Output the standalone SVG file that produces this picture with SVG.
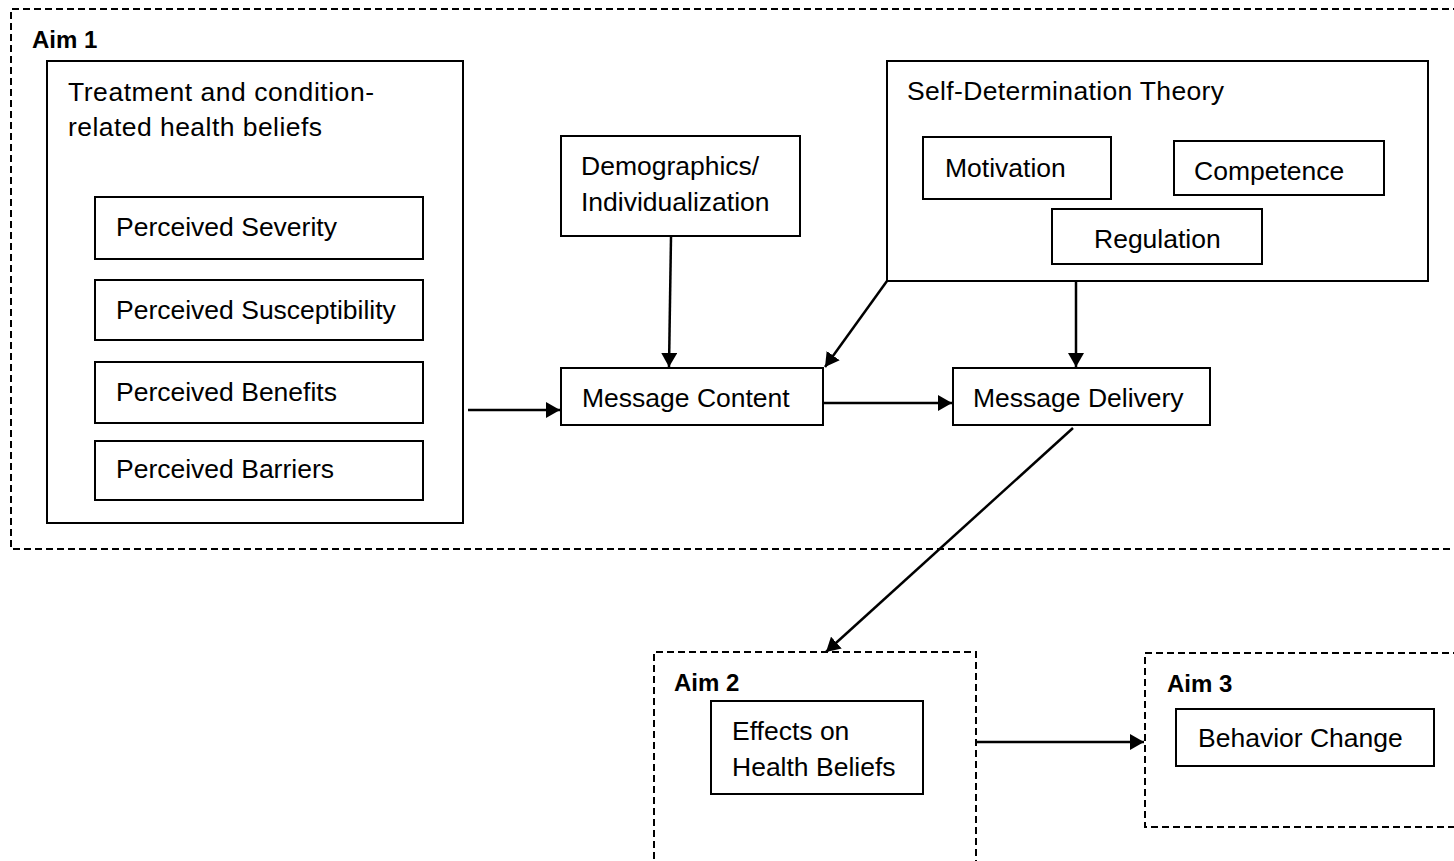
<svg xmlns="http://www.w3.org/2000/svg" width="1454" height="861" viewBox="0 0 1454 861">
  <style>
    .box { fill: #ffffff; stroke: #000000; stroke-width: 2; }
    .aim { fill: none; stroke: #000000; stroke-width: 2; stroke-dasharray: 7 4; }
    .lbl { font-family: "Liberation Sans", Arial, sans-serif; font-size: 26.5px; fill: #000000; }
    .aimlbl { font-family: "Liberation Sans", Arial, sans-serif; font-size: 24px; font-weight: bold; fill: #000000; }
    .edge { fill: none; stroke: #000000; stroke-width: 2.5; }
  </style>
  <defs>
    <marker id="arrow" viewBox="0 0 14 16" refX="14" refY="8" markerWidth="14" markerHeight="16" markerUnits="userSpaceOnUse" orient="auto">
      <path d="M0,0 L14,8 L0,16 Z" fill="#000000"/>
    </marker>
  </defs>
  <rect width="1454" height="861" fill="#ffffff"/>

  <!-- Aim groupings (dashed frames) -->
  <g id="aim1">
    <path class="aim" d="M1460,9 H11 V549 H1460"/>
    <text class="aimlbl" x="32" y="48">Aim 1</text>
  </g>
  <g id="aim2">
    <path class="aim" d="M654,870 V652 H976 V870"/>
    <text class="aimlbl" x="674" y="691">Aim 2</text>
  </g>
  <g id="aim3">
    <path class="aim" d="M1460,653 H1145 V827 H1460"/>
    <text class="aimlbl" x="1167" y="692">Aim 3</text>
  </g>

  <!-- Health belief constructs -->
  <g id="health-beliefs">
    <rect class="box" x="47" y="61" width="416" height="462"/>
    <text class="lbl" x="68" y="101" textLength="306">Treatment and condition-</text>
    <text class="lbl" x="68" y="136" textLength="254">related health beliefs</text>
  </g>
  <g id="perceived-severity">
    <rect class="box" x="95" y="197" width="328" height="62"/>
    <text class="lbl" x="116" y="236">Perceived Severity</text>
  </g>
  <g id="perceived-susceptibility">
    <rect class="box" x="95" y="280" width="328" height="60"/>
    <text class="lbl" x="116" y="319">Perceived Susceptibility</text>
  </g>
  <g id="perceived-benefits">
    <rect class="box" x="95" y="362" width="328" height="61"/>
    <text class="lbl" x="116" y="401">Perceived Benefits</text>
  </g>
  <g id="perceived-barriers">
    <rect class="box" x="95" y="441" width="328" height="59"/>
    <text class="lbl" x="116" y="478">Perceived Barriers</text>
  </g>

  <g id="demographics">
    <rect class="box" x="561" y="136" width="239" height="100"/>
    <text class="lbl" x="581" y="175">Demographics/</text>
    <text class="lbl" x="581" y="211">Individualization</text>
  </g>

  <!-- Self-Determination Theory -->
  <g id="sdt">
    <rect class="box" x="887" y="61" width="541" height="220"/>
    <text class="lbl" x="907" y="100" textLength="317">Self-Determination Theory</text>
  </g>
  <g id="motivation">
    <rect class="box" x="923" y="137" width="188" height="62"/>
    <text class="lbl" x="945" y="177">Motivation</text>
  </g>
  <g id="competence">
    <rect class="box" x="1174" y="141" width="210" height="54"/>
    <text class="lbl" x="1194" y="180">Competence</text>
  </g>
  <g id="regulation">
    <rect class="box" x="1052" y="209" width="210" height="55"/>
    <text class="lbl" x="1094" y="248">Regulation</text>
  </g>

  <g id="message-content">
    <rect class="box" x="561" y="368" width="262" height="57"/>
    <text class="lbl" x="582" y="407">Message Content</text>
  </g>
  <g id="message-delivery">
    <rect class="box" x="953" y="368" width="257" height="57"/>
    <text class="lbl" x="973" y="407">Message Delivery</text>
  </g>

  <g id="effects">
    <rect class="box" x="711" y="701" width="212" height="93"/>
    <text class="lbl" x="732" y="740">Effects on</text>
    <text class="lbl" x="732" y="776">Health Beliefs</text>
  </g>
  <g id="behavior-change">
    <rect class="box" x="1176" y="709" width="258" height="57"/>
    <text class="lbl" x="1198" y="747">Behavior Change</text>
  </g>

  <!-- Connectors -->
  <g id="connectors">
    <line class="edge" x1="468" y1="410" x2="560" y2="410" marker-end="url(#arrow)"/>
    <line class="edge" x1="824" y1="403" x2="952" y2="403" marker-end="url(#arrow)"/>
    <line class="edge" x1="671" y1="237" x2="669" y2="367" marker-end="url(#arrow)"/>
    <line class="edge" x1="887" y1="281" x2="825" y2="367" marker-end="url(#arrow)"/>
    <line class="edge" x1="1076" y1="281" x2="1076" y2="367" marker-end="url(#arrow)"/>
    <line class="edge" x1="1073" y1="428" x2="826" y2="652" marker-end="url(#arrow)"/>
    <line class="edge" x1="977" y1="742" x2="1144" y2="742" marker-end="url(#arrow)"/>
  </g>
</svg>
